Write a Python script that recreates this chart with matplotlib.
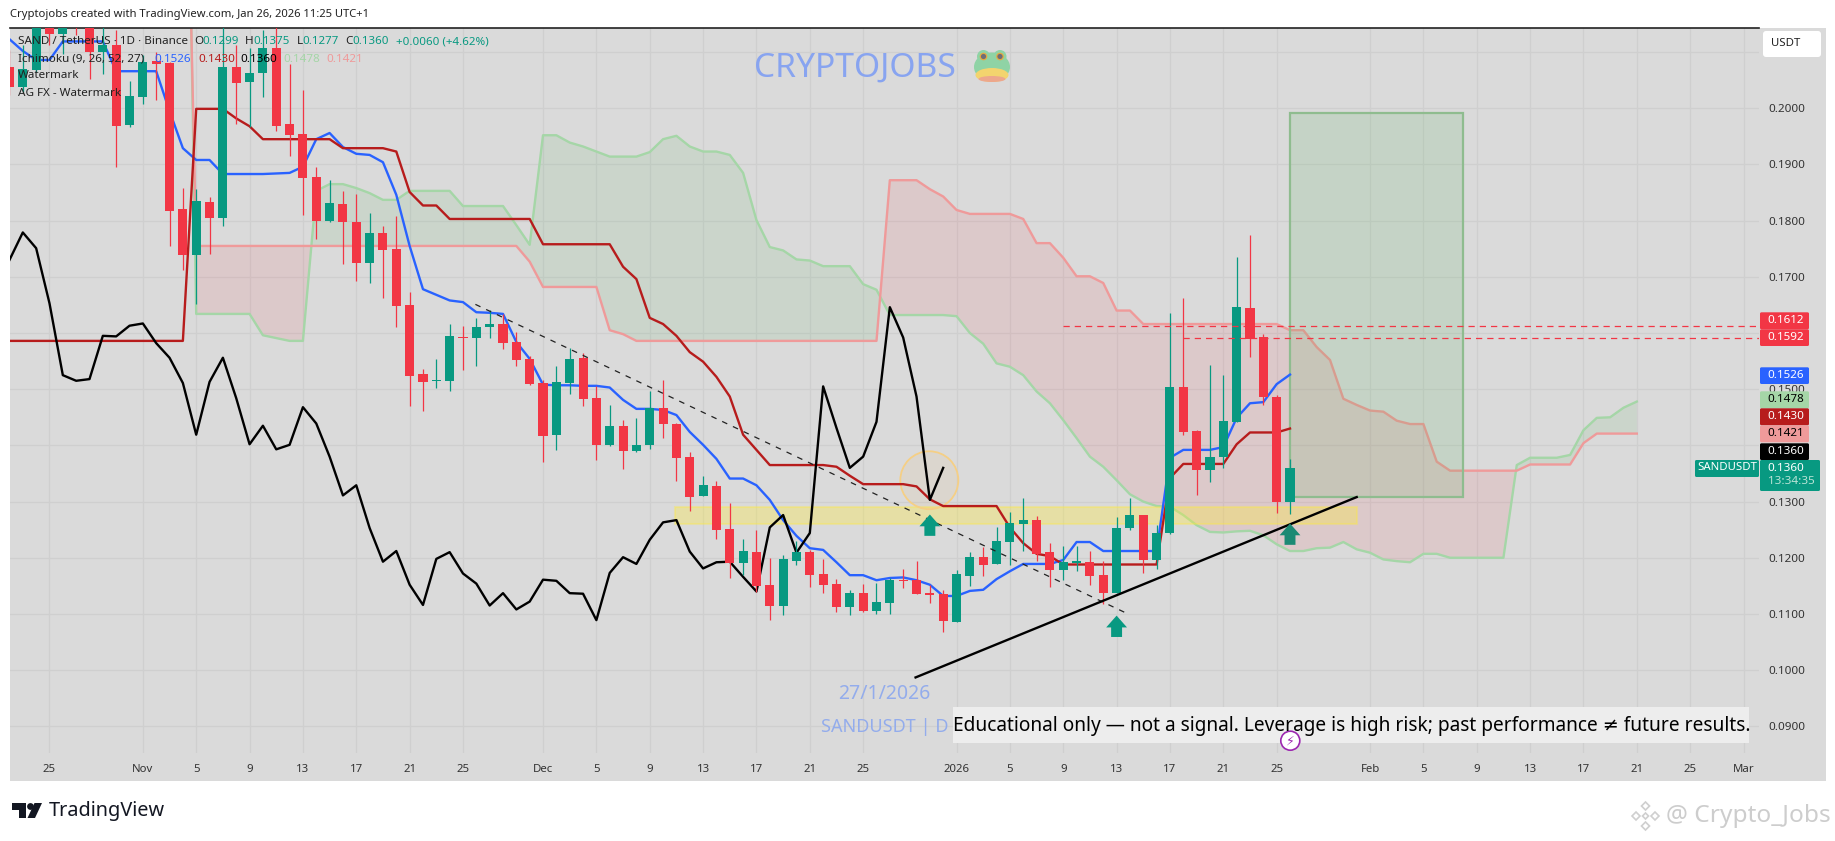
import matplotlib
matplotlib.use('Agg')
import matplotlib.pyplot as plt
import numpy as np
from matplotlib.patches import Circle, Ellipse, FancyBboxPatch, Polygon, Rectangle
from matplotlib.transforms import Affine2D

plt.rcParams['font.family'] = ['Noto Sans', 'DejaVu Sans']

# x is days since 25 Oct 2025
first_candle_day = -3
opens = [.2074,.2038,.2068,.2157,.2133,.2175,.2160,.2100,.2112,.1970,.2020,.2085,.2081,.1821,.1738,.1833,.1805,.2073,.2047,.2062,.2107,.1972,.1954,.1878,.1799,.1830,
         .1798,.1725,.1778,.1750,.1650,.1527,.1515,.1515,.1593,.1591,.1611,.1616,.1584,.1554,.1511,.1419,.1511,.1556,.1484,.1401,.1435,.1390,.1401,.1467,.1438,.1379,
         .1310,.1328,.1251,.1191,.1210,.1152,.1114,.1194,.1210,.1171,.1153,.1112,.1137,.1105,.1120,.1161,.1161,.1137,.1136,.1086,.1168,.1201,.1189,.1228,.1260,.1267,
         .1210,.1178,.1191,.1193,.1169,.1137,.1253,.1276,.1196,.1244,.1504,.1426,.1356,.1379,.1442,.1645,.1593,.1486,.1299]
highs = [.2104,.2113,.2170,.2165,.2170,.2185,.2170,.2157,.2139,.2048,.2095,.2101,.2083,.1858,.1856,.1842,.2157,.2113,.2107,.2139,.2157,.2079,.2033,.1896,.1873,.1853,
         .1848,.1814,.1791,.1808,.1673,.1536,.1554,.1616,.1613,.1627,.1641,.1634,.1602,.1559,.1516,.1541,.1573,.1565,.1506,.1472,.1445,.1449,.1497,.1516,.1440,.1388,
         .1346,.1337,.1297,.1233,.1249,.1200,.1205,.1230,.1214,.1198,.1162,.1143,.1153,.1155,.1164,.1180,.1194,.1152,.1143,.1178,.1210,.1219,.1255,.1281,.1306,.1274,
         .1226,.1221,.1221,.1212,.1194,.1273,.1306,.1276,.1258,.1636,.1662,.1428,.1543,.1525,.1735,.1774,.1598,.1490,.1375]
lows = [.2024,.2029,.2065,.2113,.2097,.2130,.2053,.2061,.1896,.1967,.2008,.2014,.1755,.1712,.1652,.1741,.1791,.1972,.1967,.2020,.1960,.1915,.1810,.1768,.1798,.1723,
        .1693,.1689,.1662,.1611,.1470,.1461,.1502,.1497,.1534,.1541,.1591,.1572,.1541,.1508,.1370,.1392,.1491,.1470,.1374,.1399,.1358,.1388,.1394,.1413,.1337,.1283,
        .1310,.1233,.1164,.1169,.1139,.1089,.1098,.1187,.1148,.1137,.1103,.1098,.1103,.1100,.1100,.1146,.1136,.1120,.1068,.1086,.1150,.1168,.1189,.1187,.1212,.1194,
        .1148,.1161,.1176,.1152,.1118,.1137,.1249,.1173,.1180,.1242,.1419,.1312,.1335,.1360,.1442,.1557,.1472,.1280,.1277]
closes = [.2038,.2070,.2157,.2133,.2154,.2150,.2100,.2112,.1969,.2021,.2083,.2079,.1818,.1738,.1835,.1804,.2073,.2045,.2063,.2107,.1969,.1953,.1876,.1800,.1831,.1798,
          .1725,.1778,.1748,.1648,.1524,.1513,.1516,.1595,.1591,.1611,.1616,.1582,.1552,.1509,.1417,.1513,.1554,.1483,.1401,.1435,.1390,.1401,.1467,.1438,.1378,.1308,
          .1329,.1249,.1191,.1212,.1150,.1114,.1198,.1210,.1169,.1152,.1112,.1137,.1105,.1121,.1161,.1159,.1136,.1134,.1088,.1171,.1201,.1187,.1230,.1262,.1267,.1207,
          .1178,.1193,.1194,.1168,.1137,.1253,.1276,.1196,.1244,.1504,.1424,.1356,.1379,.1443,.1646,.1589,.1486,.1299,.1360]

conversion_line = [.2123,.2102,.2086,.2086,.2119,.2119,.2119,.2119,.2066,.2066,.2066,.2066,.1995,.1929,.1908,.1908,.1883,.1883,.1883,.1883,.1884,.1885,.1896,.1945,.1956,.1931,
                   .1919,.1917,.1904,.1846,.1755,.1678,.1668,.1658,.1655,.1637,.1636,.1634,.1584,.1554,.1508,.1507,.1507,.1506,.1506,.1503,.1481,.1465,.1465,.1463,.1454,.1424,
                   .1401,.1376,.1341,.1341,.1329,.1303,.1267,.1239,.1217,.1214,.1192,.1169,.1169,.1160,.1164,.1165,.1160,.1152,.1132,.1132,.1141,.1143,.1162,.1176,.1189,.1189,
                   .1189,.1196,.1228,.1228,.1212,.1212,.1212,.1212,.1212,.1378,.1392,.1392,.1392,.1397,.1449,.1475,.1477,.1509,.1526]
base_line = [.1586,.1586,.1586,.1586,.1586,.1586,.1586,.1586,.1586,.1586,.1586,.1586,.1586,.1586,.1999,.1999,.1999,.1982,.1968,.1945,.1945,.1945,.1945,.1945,.1945,.1929,
             .1929,.1929,.1929,.1923,.1851,.1827,.1827,.1803,.1803,.1803,.1803,.1803,.1803,.1803,.1758,.1758,.1758,.1758,.1758,.1758,.1718,.1696,.1627,.1616,.1595,.1566,
             .1549,.1522,.1487,.1419,.1392,.1365,.1365,.1365,.1365,.1365,.1362,.1346,.1331,.1331,.1331,.1331,.1327,.1304,.1292,.1292,.1292,.1292,.1292,.1254,.1226,.1207,
             .1203,.1188,.1188,.1188,.1188,.1188,.1188,.1188,.1188,.1342,.1367,.1367,.1367,.1367,.1402,.1423,.1423,.1423,.1430]
lagging_span = [.1730,.1779,.1751,.1653,.1525,.1515,.1518,.1595,.1594,.1613,.1617,.1582,.1556,.1511,.1419,.1513,.1556,.1484,.1402,.1435,.1393,.1401,.1468,.1439,.1380,.1311,
                .1329,.1253,.1193,.1212,.1152,.1116,.1198,.1210,.1172,.1154,.1115,.1137,.1108,.1122,.1161,.1159,.1137,.1136,.1089,.1173,.1201,.1189,.1232,.1263,.1267,.1211,
                .1181,.1192,.1193,.1166,.1140,.1254,.1276,.1209,.1244,.1505,.1431,.1360,.1380,.1442,.1646,.1592,.1487,.1303,.1360]

first_cloud_day = 10
span_a = [.3000,.1634,.1634,.1634,.1634,.1634,.1596,.1591,.1586,.1586,.1853,.1865,.1865,.1858,.1849,.1837,.1837,.1853,.1853,.1853,.1853,.1826,.1826,.1826,.1826,.1792,
          .1757,.1952,.1952,.1939,.1932,.1923,.1914,.1914,.1914,.1922,.1945,.1951,.1932,.1923,.1923,.1917,.1885,.1801,.1753,.1747,.1731,.1729,.1719,.1719,.1719,.1687,
          .1677,.1632,.1632,.1632,.1632,.1632,.1630,.1600,.1581,.1546,.1540,.1525,.1496,.1475,.1445,.1413,.1380,.1362,.1338,.1313,.1300,.1292,.1291,.1276,.1258,.1246,
          .1245,.1247,.1248,.1240,.1224,.1212,.1212,.1217,.1218,.1228,.1215,.1209,.1197,.1194,.1192,.1207,.1207,.1200,.1200,.1200,.1200,.1200,.1365,.1378,.1378,.1378,
          .1383,.1427,.1449,.1450,.1467,.1478]
span_b = [.2800,.1755,.1755,.1755,.1755,.1755,.1755,.1755,.1755,.1755,.1755,.1755,.1755,.1755,.1755,.1755,.1755,.1755,.1755,.1755,.1755,.1755,.1755,.1755,.1755,.1755,
          .1727,.1682,.1682,.1682,.1682,.1682,.1605,.1598,.1586,.1586,.1586,.1586,.1586,.1586,.1586,.1586,.1586,.1586,.1586,.1586,.1586,.1586,.1586,.1586,.1586,.1586,
          .1586,.1872,.1872,.1872,.1856,.1843,.1819,.1812,.1812,.1812,.1812,.1803,.1760,.1760,.1734,.1701,.1701,.1689,.1640,.1640,.1616,.1616,.1616,.1616,.1616,.1616,
          .1616,.1616,.1616,.1616,.1616,.1605,.1605,.1575,.1552,.1483,.1472,.1462,.1460,.1444,.1438,.1438,.1371,.1355,.1355,.1355,.1355,.1355,.1355,.1366,.1366,.1366,
          .1366,.1404,.1421,.1421,.1421,.1421]

price_ticks = [.09, .10, .11, .12, .13, .14, .15, .16, .17, .18, .19, .20, .21]
price_tick_labels = ['0.0900', '0.1000', '0.1100', '0.1200', '0.1300', '', '0.1500', '', '0.1700', '0.1800', '0.1900', '0.2000', '']
time_ticks = [0, 7, 11, 15, 19, 23, 27, 31, 37, 41, 45, 49, 53, 57, 61, 68, 72, 76, 80, 84, 88, 92, 99, 103, 107, 111, 115, 119, 123, 127]
time_labels = ['25', 'Nov', '5', '9', '13', '17', '21', '25', 'Dec', '5', '9', '13', '17', '21', '25', '2026',
               '5', '9', '13', '17', '21', '25', 'Feb', '5', '9', '13', '17', '21', '25', 'Mar']

dashed_trend_days = [31.93, 80.68]
dashed_trend_prices = [.1651, .1102]
solid_trend_days = [64.93, 98.0]
solid_trend_prices = [.0987, .1308]
zone_days = [46.9, 98.0]
zone_prices = [.1260, .1290]
target_days = [93, 106]
target_prices = [.1309, .1992]
resistance_levels = [.1612, .1592]
resistance_start_days = [75.96, 85.0]
arrow_days = [66, 80, 93]
arrow_prices = [.1277, .1097, .1261]

GREEN = '#089981'
RED = '#F23645'
BG = '#DADADA'
GRID = '#CFCFCF'
W, H = 1835, 841

fig = plt.figure(figsize=(W / 100, H / 100), dpi=100, facecolor='white')
px = Affine2D().scale(1, -1).translate(0, H)   # picture pixels, y going down

fig.add_artist(Rectangle((10, 28), 1816, 753, transform=px, facecolor=BG, edgecolor='none', zorder=-5))
ax = fig.add_axes([10 / W, 1 - 753 / H, 1749 / W, 725 / H], facecolor=BG)
ax.set_xlim(-2.96, 128.16)
ax.set_ylim(.08525, .21429)
for s in ['left', 'right', 'bottom']:
    ax.spines[s].set_visible(False)
ax.spines['top'].set_color('#222222')
ax.spines['top'].set_linewidth(1.2)
ax.set_xticks(time_ticks)
ax.set_xticklabels(time_labels, fontsize=8.2, color='#333333')
ax.tick_params(axis='x', length=0, pad=8)
ax.get_xticklabels()[15].set_fontweight('bold')
ax.yaxis.tick_right()
ax.set_yticks(price_ticks)
ax.set_yticklabels(price_tick_labels, fontsize=8.4, color='#333333')
ax.tick_params(axis='y', length=0, pad=7)
ax.grid(True, color=GRID, lw=0.9, zorder=0)
ax.set_axisbelow(True)

# cloud
cloud_days = np.arange(first_cloud_day, first_cloud_day + len(span_a))
a = np.array(span_a)
b = np.array(span_b)
ax.fill_between(cloud_days, a, b, where=a >= b, interpolate=True, color='#4CAF50', alpha=.1, lw=0, zorder=1)
ax.fill_between(cloud_days, a, b, where=a < b, interpolate=True, color='#F23645', alpha=.1, lw=0, zorder=1)
ax.plot(cloud_days, a, color='#A5D6A7', lw=1.7, zorder=2)
ax.plot(cloud_days, b, color='#EF9A9A', lw=1.7, zorder=2)

# drawings under the candles
ax.add_patch(Rectangle((zone_days[0], zone_prices[0]), zone_days[1] - zone_days[0], zone_prices[1] - zone_prices[0],
                       facecolor='#FFEB3B', edgecolor='#FFEB3B', alpha=.33, lw=1.5, zorder=2))
ax.add_patch(Rectangle((target_days[0], target_prices[0]), target_days[1] - target_days[0], target_prices[1] - target_prices[0],
                       facecolor='#4CAF50', alpha=.14, lw=0, zorder=2))
ax.add_patch(Rectangle((target_days[0], target_prices[0]), target_days[1] - target_days[0], target_prices[1] - target_prices[0],
                       facecolor='none', edgecolor='#8FBC8F', lw=1.6, zorder=2.1))
ax.add_patch(Ellipse((65.96, .1338), 4.35, .0103, facecolor='#FF9800', alpha=.05, lw=0, zorder=2))
ax.add_patch(Ellipse((65.96, .1338), 4.35, .0103, facecolor='none', edgecolor='#F5CF85', lw=1.3, zorder=2))

days = np.arange(first_candle_day, first_candle_day + len(opens))
ax.plot(np.arange(first_candle_day, first_candle_day + len(conversion_line)), conversion_line, color='#2962FF', lw=1.7, zorder=3)
ax.plot(np.arange(first_candle_day, first_candle_day + len(base_line)), base_line, color='#B71C1C', lw=1.7, zorder=3)
ax.plot(np.arange(first_candle_day, first_candle_day + len(lagging_span)), lagging_span, color='black', lw=1.7, zorder=3)

# candles
o = np.array(opens)
c = np.array(closes)
cols = [GREEN if c[i] >= o[i] else RED for i in range(len(o))]
ax.vlines(days, lows, highs, colors=cols, lw=0.9, zorder=4)
ax.bar(days, np.abs(c - o), bottom=np.minimum(o, c), width=0.68, color=cols, lw=0, zorder=5)

# lines on top
ax.plot(dashed_trend_days, dashed_trend_prices, color='#222222', lw=0.9, dashes=(4.5, 5), zorder=6)
ax.plot(solid_trend_days, solid_trend_prices, color='black', lw=1.7, zorder=6)
for lvl, start in zip(resistance_levels, resistance_start_days):
    ax.plot([start, 128.16], [lvl, lvl], color=RED, lw=0.9, dashes=(5, 4), zorder=6)
for d, tip, col in zip(arrow_days, arrow_prices, [GREEN, GREEN, '#1B8A74']):
    hw, sw = .78, .41      # half widths in days
    head, tail = .0021, .0038
    ax.add_patch(Polygon([(d, tip), (d + hw, tip - head), (d + sw, tip - head), (d + sw, tip - tail),
                          (d - sw, tip - tail), (d - sw, tip - head), (d - hw, tip - head)],
                         facecolor=col, edgecolor='none', zorder=7))


def label(x, y, s, size=8, color='#222222', ha='left', **kw):
    fig.text(x, y, s, transform=px, fontsize=size, color=color, ha=ha, va='center', zorder=20, **kw)


def box(x0, y0, x1, y1, color, round_px=1.5, zorder=12):
    fig.add_artist(FancyBboxPatch((x0 + round_px, y0 + round_px), x1 - x0 - 2 * round_px, y1 - y0 - 2 * round_px,
                                  boxstyle='round,pad=%f' % round_px, transform=px,
                                  facecolor=color, edgecolor='none', zorder=zorder))


label(10, 15, 'Cryptojobs created with TradingView.com, Jan 26, 2026 11:25 UTC+1', size=8.1)

# legend rows
label(18, 42, 'SAND / TetherUS · 1D · Binance', size=8.4)
for x, s in zip([194, 245.3, 296.6, 345.6], ['O', 'H', 'L', 'C']):
    label(x, 42, s, size=8.4)
for x, s in zip([202, 253, 302.3, 352.5, 395.7], ['0.1299', '0.1375', '0.1277', '0.1360', '+0.0060 (+4.62%)']):
    label(x, 42, s, size=8.3, color=GREEN)
label(18, 59, 'Ichimoku (9, 26, 52, 27)', size=8.4)
for x, s, col in zip([154, 197.9, 240.3, 283.2, 326.4], ['0.1526', '0.1430', '0.1360', '0.1478', '0.1421'],
                     ['#2962FF', '#B71C1C', 'black', '#A5D6A7', '#EF9A9A']):
    label(x, 59, s, size=8.4, color=col)
label(18, 76, 'Watermark', size=8.4)
label(18, 93, 'AG FX - Watermark', size=8.4)

# watermark texts
label(854.5, 68, 'CRYPTOJOBS', size=24.2, color='#88A4F0', ha='center')
label(884.5, 694, '27/1/2026', size=14, color='#93ACEC', ha='center')
label(821, 727, 'SANDUSDT | D', size=13, color='#93ACEC')

# frog
fig.add_artist(Ellipse((992, 67), 36, 29, transform=px, facecolor='#8FD3A5', edgecolor='none', zorder=10))
fig.add_artist(Ellipse((992, 75), 33, 14, transform=px, facecolor='#F3D46E', edgecolor='none', zorder=10))
fig.add_artist(Ellipse((992, 79), 27, 6, transform=px, facecolor='#EDA78C', edgecolor='none', zorder=10))
for ex in [983.5, 1000]:
    fig.add_artist(Circle((ex, 56.5), 6.5, transform=px, facecolor='#8FD3A5', edgecolor='none', zorder=11))
    fig.add_artist(Circle((ex, 56.5), 3.8, transform=px, facecolor='#E8A83E', edgecolor='none', zorder=11))
    fig.add_artist(Circle((ex, 56.5), 2.6, transform=px, facecolor='#6E6E78', edgecolor='none', zorder=11))

# disclaimer
fig.add_artist(Rectangle((953, 707.3), 796, 35.4, transform=px, facecolor='#EDEDED', edgecolor='none', zorder=9))
label(953, 726, 'Educational only — not a signal. Leverage is high risk; past performance ≠ future results.', size=13.75, color='black')
fig.add_artist(Circle((1290.3, 740.7), 9.5, transform=px, facecolor='white', edgecolor='#9C27B0', lw=1.2, zorder=13))
fig.text(1290.3, 740.7, '⚡', transform=px, fontsize=9, color='#9C27B0', ha='center', va='center', family='DejaVu Sans', zorder=20)

# price tags
box(1763, 31, 1821, 57, 'white', round_px=3)
label(1786, 44, 'USDT', size=8.2, ha='center')
tags = [(312.3, 329.3, RED, '0.1612', 'white'), (329.3, 346, RED, '0.1592', 'white'), (367.3, 384, '#2962FF', '0.1526', 'white'),
        (391.3, 408.3, '#A5D6A7', '0.1478', 'black'), (408.3, 425.3, '#B71C1C', '0.1430', 'white'),
        (425.3, 442.3, '#EF9A9A', '0.1421', 'black'), (443.3, 460, 'black', '0.1360', 'white')]
for y0, y1, col, s, tc in tags:
    box(1760, y0, 1809, y1, col)
    label(1785.5, (y0 + y1) / 2 - 0.5, s, size=8.4, color=tc, ha='center')
box(1760, 460, 1820, 491, GREEN)
label(1785.5, 468.5, '0.1360', size=8.4, color='white', ha='center')
label(1768, 482, '13:34:35', size=8.4, color='#B9E3D6')
box(1695, 460, 1759, 477, GREEN)
label(1727, 468, 'SANDUSDT', size=8.2, color='white', ha='center')

# TradingView logo
logo = '#131722'
fig.add_artist(Polygon([(11.5, 803), (26, 803), (26, 818), (19, 818), (19, 810), (11.5, 810)], transform=px, facecolor=logo, edgecolor='none'))
fig.add_artist(Circle((30.5, 806.5), 3.4, transform=px, facecolor=logo, edgecolor='none'))
fig.add_artist(Polygon([(34.5, 803), (42, 803), (35, 818), (27.5, 818)], transform=px, facecolor=logo, edgecolor='none'))
label(49, 811, 'TradingView', size=14.3, color=logo, fontweight='bold')

# corner watermark
for cx, cy, r in [(1645.5, 806, 4), (1636, 816, 4), (1655, 816, 4), (1645.5, 826, 4), (1645.5, 816, 3)]:
    fig.add_artist(Polygon([(cx, cy - r), (cx + r, cy), (cx, cy + r), (cx - r, cy)], transform=px,
                           facecolor='white', edgecolor='#CFCFCF', lw=1.2))
label(1666, 816, '@ Crypto_Jobs', size=17.6, color='#CDCDCD')

fig.savefig('out.png', dpi=100)
